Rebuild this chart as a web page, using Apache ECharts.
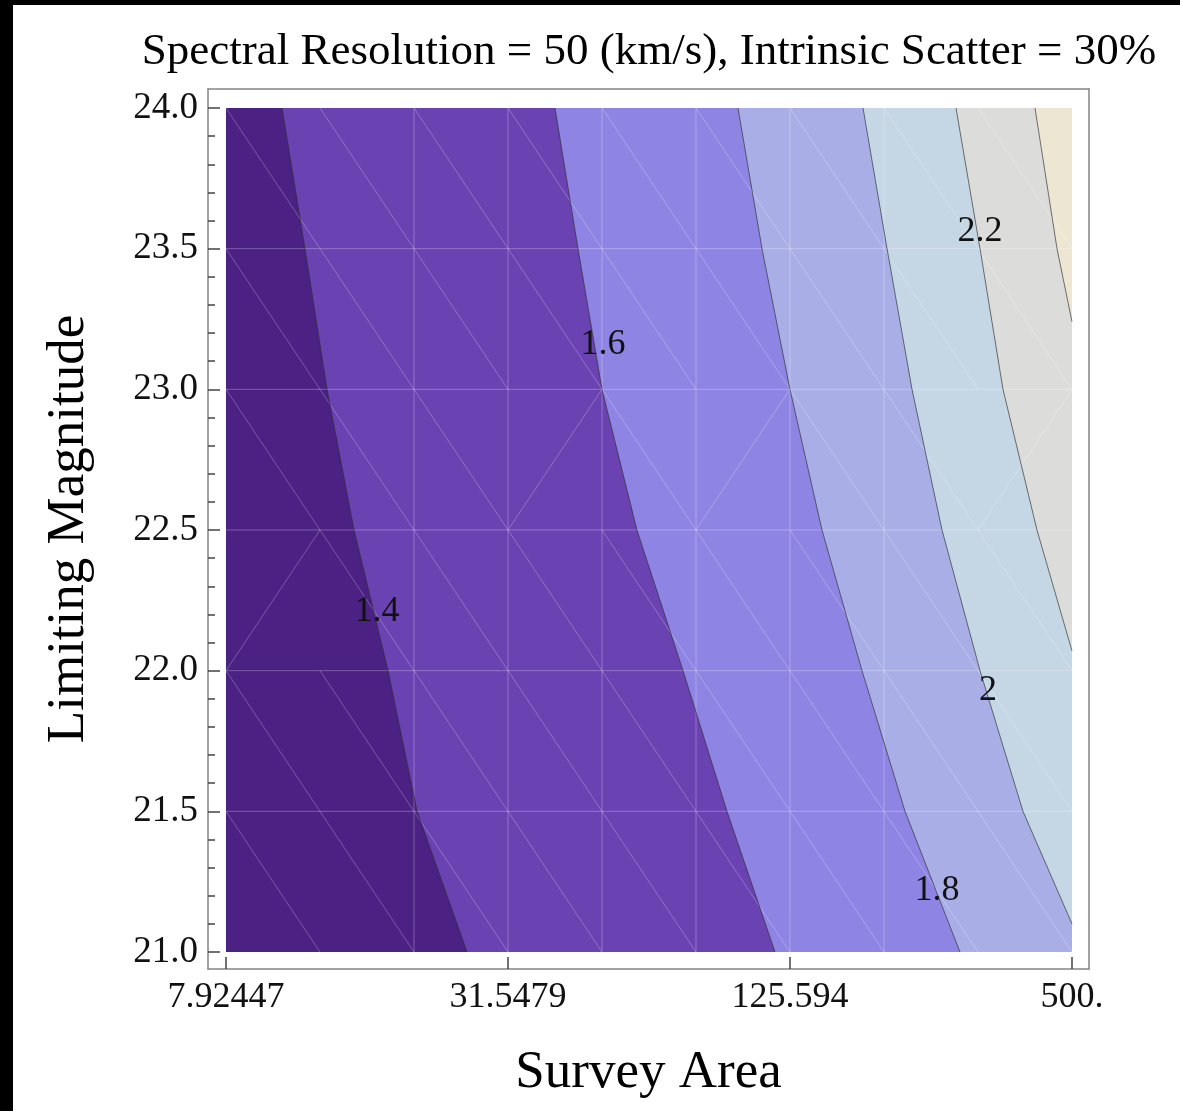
<!DOCTYPE html>
<html><head><meta charset="utf-8">
<script src="https://cdn.jsdelivr.net/npm/echarts@6/dist/echarts.min.js"></script>
<style>html,body{margin:0;padding:0;background:#fff}#c{width:1180px;height:1111px}</style>
</head><body><div id="c"></div>
<script>
const titleText = 'Spectral Resolution = 50 (km/s), Intrinsic Scatter = 30%';
const xAxisName = 'Survey Area';
const yAxisName = 'Limiting Magnitude';
const xTickAreas = [7.92447, 31.5479, 125.594, 500];
const xTickLabels = ['7.92447', '31.5479', '125.594', '500.'];
const yTickValues = [21.0, 21.5, 22.0, 22.5, 23.0, 23.5, 24.0];
const yTickLabels = ['21.0', '21.5', '22.0', '22.5', '23.0', '23.5', '24.0'];
const yMinorTicks = [21.1, 21.2, 21.3, 21.4, 21.6, 21.7, 21.8, 21.9, 22.1, 22.2, 22.3, 22.4,
  22.6, 22.7, 22.8, 22.9, 23.1, 23.2, 23.3, 23.4, 23.6, 23.7, 23.8, 23.9];

// band fill colours, from lowest value to highest
const bandColors = ['#4b2184', '#6a42b2', '#8e84e3', '#aaaee6', '#c5d6e5', '#dcddda', '#ede6d3'];
const contourLevels = [1.4, 1.6, 1.8, 2.0, 2.2, 2.4];

// contour lines: [survey area, limiting magnitude], from the top edge down
const c14 = [[10.43, 24], [11.67, 23.5], [13.00, 23], [14.84, 22.5], [17.53, 22], [20.21, 21.5], [25.81, 21]];
const c16 = [[39.72, 24], [44.46, 23.5], [50.00, 23], [59.34, 22.5], [74.37, 22], [92.25, 21.5], [116.70, 21]];
const c18 = [[97.35, 24], [109.5, 23.5], [125.59, 23], [146.9, 22.5], [178.74, 22], [220.67, 21.5], [288.85, 21]];
const c20 = [[179.61, 24], [202.05, 23.5], [228.35, 23], [264.47, 22.5], [318.61, 22], [393.28, 21.5], [500, 21.10]];
const c22 = [[283.25, 24], [318.61, 23.5], [356.59, 23], [421.18, 22.5], [500, 22.07]];
const c24 = [[417.08, 24], [464.64, 23.5], [500, 23.24]];
const contourLines = [c14, c16, c18, c20, c22, c24];

// contour labels
const contourLabelText = ['1.4', '1.6', '1.8', '2', '2.2'];
const contourLabelPos = [[16.61, 22.21], [50.24, 23.16], [258.1, 21.22], [331.3, 21.93], [318.6, 23.56]];

// sampling mesh of the plot
const meshAreas = [7.92447, 12.5594, 19.9054, 31.5479, 50.0, 79.2447, 125.594, 199.054, 315.479, 500];
const meshMags = [24, 23.5, 23, 22.5, 22, 21.5, 21];
const meshVerticalIdx = [2, 3, 4, 5, 6, 7];
const meshFlip = [[2, 3], [2, 5], [2, 8], [3, 0]];

const X = a => Math.log10(a);
const areaMin = xTickAreas[0], areaMax = xTickAreas[xTickAreas.length - 1];
const magMin = 21, magMax = 24;

const serif = 'Liberation Serif';
const chart = echarts.init(document.getElementById('c'));

function nearestLabel(v, vals, labels) {
  let best = 0;
  for (let i = 1; i < vals.length; i++) if (Math.abs(vals[i] - v) < Math.abs(vals[best] - v)) best = i;
  return labels[best];
}

const anchor = [[X(50), 22.5]];

const option = {
  animation: false,
  backgroundColor: '#ffffff',
  title: {
    text: titleText, left: 644, top: 25, textAlign: 'center',
    textStyle: { fontFamily: serif, fontSize: 45, fontWeight: 'normal', color: '#000' }
  },
  grid: { left: 208, top: 89, width: 881, height: 880, containLabel: false, outerBoundsMode: 'none' },
  xAxis: [{
    type: 'value', position: 'bottom', min: 0.86067, max: 2.73514,
    name: xAxisName, nameLocation: 'middle', nameGap: 78,
    nameTextStyle: { fontFamily: serif, fontSize: 53, color: '#000' },
    axisLine: { show: true, lineStyle: { color: '#858585', width: 1.5 } },
    axisTick: { show: true, inside: true, length: 12, customValues: xTickAreas.map(X), lineStyle: { color: '#444', width: 1.5 } },
    axisLabel: { show: true, customValues: xTickAreas.map(X), margin: 11, hideOverlap: false,
      formatter: v => nearestLabel(v, xTickAreas.map(X), xTickLabels),
      fontFamily: serif, fontSize: 36, color: '#111' },
    splitLine: { show: false }
  }, {
    type: 'value', position: 'top', min: 0.86067, max: 2.73514,
    axisLine: { show: true, lineStyle: { color: '#858585', width: 1.5 } },
    axisTick: { show: false }, axisLabel: { show: false }, splitLine: { show: false }
  }],
  yAxis: [{
    type: 'value', position: 'left', min: 20.9396, max: 24.0675,
    name: yAxisName, nameLocation: 'middle', nameGap: 112, nameRotate: 90,
    nameTextStyle: { fontFamily: serif, fontSize: 53, color: '#000' },
    axisLine: { show: true, lineStyle: { color: '#858585', width: 1.5 } },
    axisTick: { show: true, inside: true, length: 12, customValues: yTickValues, lineStyle: { color: '#444', width: 1.5 } },
    axisLabel: { show: true, customValues: yTickValues, margin: 10, hideOverlap: false,
      formatter: v => nearestLabel(v, yTickValues, yTickLabels),
      fontFamily: serif, fontSize: 37, color: '#111' },
    splitLine: { show: false }
  }, {
    type: 'value', position: 'left', min: 20.9396, max: 24.0675,
    axisLine: { show: false },
    axisTick: { show: true, inside: true, length: 7, customValues: yMinorTicks, lineStyle: { color: '#444', width: 1.5 } },
    axisLabel: { show: false }, splitLine: { show: false }
  }, {
    type: 'value', position: 'right', min: 20.9396, max: 24.0675,
    axisLine: { show: true, lineStyle: { color: '#858585', width: 1.5 } },
    axisTick: { show: false }, axisLabel: { show: false }, splitLine: { show: false }
  }],
  graphic: [
    { type: 'rect', z: 100, shape: { x: 0, y: 0, width: 13, height: 1111 }, style: { fill: '#000' } },
    { type: 'rect', z: 100, shape: { x: 0, y: 0, width: 1180, height: 5 }, style: { fill: '#000' } }
  ],
  series: [
    {
      type: 'custom', name: 'bands', coordinateSystem: 'cartesian2d', silent: true, z: 1,
      data: anchor,
      renderItem: (params, api) => {
        const c = p => api.coord([X(p[0]), p[1]]);
        const children = [{
          type: 'polygon',
          shape: { points: [c([areaMin, magMax]), c([areaMax, magMax]), c([areaMax, magMin]), c([areaMin, magMin])] },
          style: { fill: bandColors[0] }
        }];
        contourLines.forEach((line, i) => {
          const pts = line.map(c);
          const last = line[line.length - 1];
          if (last[0] < areaMax) pts.push(c([areaMax, magMin]));
          pts.push(c([areaMax, magMax]));
          children.push({ type: 'polygon', shape: { points: pts }, style: { fill: bandColors[i + 1] } });
        });
        return { type: 'group', children };
      }
    },
    {
      type: 'custom', name: 'mesh', coordinateSystem: 'cartesian2d', silent: true, z: 2,
      data: anchor,
      renderItem: (params, api) => {
        const c = p => api.coord([X(p[0]), p[1]]);
        const children = [];
        const st = { stroke: 'rgba(255,255,255,0.28)', lineWidth: 1 };
        const sd = { stroke: 'rgba(255,255,255,0.32)', lineWidth: 0.8 };
        for (let r = 1; r < meshMags.length - 1; r++) {
          const a = c([areaMin, meshMags[r]]), b = c([areaMax, meshMags[r]]);
          children.push({ type: 'line', shape: { x1: a[0], y1: a[1], x2: b[0], y2: b[1] }, style: st });
        }
        meshVerticalIdx.forEach(k => {
          const a = c([meshAreas[k], magMax]), b = c([meshAreas[k], magMin]);
          children.push({ type: 'line', shape: { x1: a[0], y1: a[1], x2: b[0], y2: b[1] }, style: st });
        });
        for (let r = 0; r < meshMags.length - 1; r++) {
          for (let k = 0; k < meshAreas.length - 1; k++) {
            const flip = meshFlip.some(f => f[0] === r && f[1] === k);
            let a, b;
            if (!flip) { a = c([meshAreas[k], meshMags[r]]); b = c([meshAreas[k + 1], meshMags[r + 1]]); }
            else { a = c([meshAreas[k], meshMags[r + 1]]); b = c([meshAreas[k + 1], meshMags[r]]); }
            children.push({ type: 'line', shape: { x1: a[0], y1: a[1], x2: b[0], y2: b[1] }, style: sd });
          }
        }
        return { type: 'group', children };
      }
    },
    {
      type: 'custom', name: 'contours', coordinateSystem: 'cartesian2d', silent: true, z: 3,
      data: anchor,
      renderItem: (params, api) => {
        const c = p => api.coord([X(p[0]), p[1]]);
        return {
          type: 'group',
          children: contourLines.map(line => ({
            type: 'polyline', shape: { points: line.map(c) },
            style: { stroke: 'rgba(45,45,45,0.65)', lineWidth: 1, fill: null }
          }))
        };
      }
    },
    {
      type: 'custom', name: 'labels', coordinateSystem: 'cartesian2d', silent: true, z: 4,
      data: anchor,
      renderItem: (params, api) => {
        return {
          type: 'group',
          children: contourLabelPos.map((p, i) => {
            const q = api.coord([X(p[0]), p[1]]);
            return {
              type: 'text', x: q[0], y: q[1],
              style: { text: contourLabelText[i], fontFamily: serif, fontSize: 36, fill: '#111', align: 'center', verticalAlign: 'middle' }
            };
          })
        };
      }
    }
  ]
};
chart.setOption(option);
</script>
</body></html>
